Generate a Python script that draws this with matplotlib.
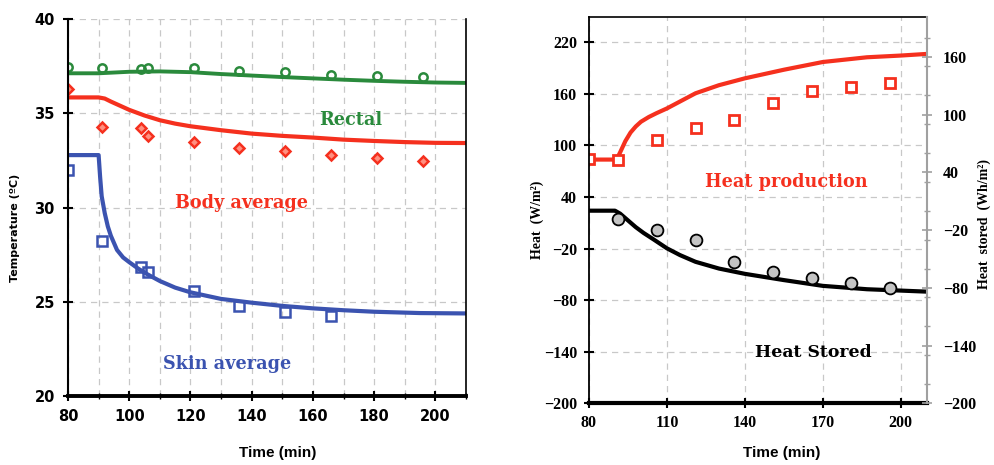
import matplotlib
matplotlib.use('Agg')
import matplotlib.pyplot as plt
from matplotlib.ticker import MultipleLocator

# ---- left panel: temperatures ----
t_rec_line = [80, 90, 100, 110, 120, 130, 140, 150, 160, 170, 180, 190, 200, 210]
rec_line = [37.12, 37.12, 37.2, 37.22, 37.18, 37.08, 37.0, 36.92, 36.85, 36.78, 36.72, 36.67, 36.63, 36.61]
t_body_line = [80, 90, 92, 94, 97, 100, 105, 110, 115, 120, 130, 140, 150, 160, 170, 180, 190, 200, 210]
body_line = [35.84, 35.84, 35.78, 35.62, 35.4, 35.18, 34.88, 34.63, 34.45, 34.31, 34.1, 33.92, 33.8, 33.71, 33.6, 33.53, 33.47, 33.43, 33.42]
t_skin_line = [80, 90, 90.5, 91, 92, 93, 94, 96, 98, 100, 103, 106, 110, 115, 120, 130, 140, 150, 160, 170, 180, 195, 210]
skin_line = [32.78, 32.78, 31.6, 30.6, 29.7, 29.0, 28.5, 27.75, 27.35, 27.1, 26.75, 26.45, 26.1, 25.75, 25.5, 25.15, 24.95, 24.78, 24.65, 24.55, 24.47, 24.4, 24.38]

t_meas = [80, 91, 104, 106, 121, 136, 151, 166, 181, 196]
rec_meas = [37.46, 37.38, 37.34, 37.4, 37.4, 37.23, 37.18, 37.02, 36.97, 36.91]
body_meas = [36.26, 34.27, 34.2, 33.78, 33.46, 33.18, 33.0, 32.77, 32.64, 32.46]
t_skin_meas = [80, 91, 104, 106, 121, 136, 151, 166]
skin_meas = [32.0, 28.2, 26.86, 26.56, 25.58, 24.79, 24.43, 24.22]

# ---- right panel: heat ----
t_prod_line = [80, 90.6, 92, 94, 96, 98, 100, 103, 106, 110, 115, 121, 130, 140, 155, 170, 187, 200, 210]
prod_line = [83.5, 83.5, 92, 105, 115, 122, 127.5, 133, 137.5, 143, 151, 160.6, 170, 178, 188, 197, 202.5, 204.5, 206.4]
t_prod_meas = [80, 91, 106, 121, 136, 151, 166, 181, 196]
prod_meas = [83.8, 83.2, 106.3, 120.7, 129.6, 149, 163.7, 167.6, 172.3]

t_stor_line = [80, 90, 92, 95, 98, 101, 105, 110, 115, 121, 130, 140, 155, 170, 187, 210]
stor_line = [0.1, 0.1, -3, -10, -17, -23, -30, -39, -46, -53, -60, -65.5, -72, -78, -81.5, -84]
t_stor_meas = [91, 106, 121, 136, 151, 166, 181, 196]
stor_meas = [-8.8, -20, -30.3, -53.5, -63.3, -69.5, -74.7, -80.5]

GREEN = '#2a8a3c'
RED = '#f5301e'
BLUE = '#3b53b0'
GRID = '#c8c8c8'

W, H = 995, 465
fig = plt.figure(figsize=(W / 100, H / 100), dpi=100)

# left axes
ax1 = fig.add_axes([68 / W, (H - 396) / H, (466 - 68) / W, (396 - 19) / H])
ax1.plot(t_rec_line, rec_line, color=GREEN, lw=2.8, solid_capstyle='butt')
ax1.plot(t_body_line, body_line, color=RED, lw=3, solid_capstyle='butt')
ax1.plot(t_skin_line, skin_line, color=BLUE, lw=3, solid_capstyle='butt')
ax1.plot(t_meas, rec_meas, 'o', ms=6, mfc='none', mec=GREEN, mew=1.8)
ax1.plot(t_meas, body_meas, 'D', ms=5, mfc='#ff9080', mec=RED, mew=1.8)
ax1.plot(t_skin_meas, skin_meas, 's', ms=6.5, mfc='none', mec=BLUE, mew=1.8)

ax1.set_xlim(80, 210)
ax1.set_ylim(20, 40)
ax1.xaxis.set_major_locator(MultipleLocator(20))
ax1.xaxis.set_minor_locator(MultipleLocator(10))
ax1.yaxis.set_major_locator(MultipleLocator(5))
ax1.grid(True, which='both', axis='x', color=GRID, ls=(0, (5, 4)), lw=0.9)
ax1.grid(True, which='major', axis='y', color=GRID, ls=(0, (5, 4)), lw=0.9)
ax1.spines['top'].set_visible(False)
ax1.spines['bottom'].set_linewidth(2.8)
ax1.spines['left'].set_linewidth(1.5)
ax1.spines['right'].set_linewidth(1.2)
ax1.tick_params(direction='inout', length=7, width=1.5, labelsize=10.5, pad=6)
ax1.tick_params(which='minor', direction='inout', length=4, width=1)
for lab in ax1.get_xticklabels() + ax1.get_yticklabels():
    lab.set_fontweight('bold')

ax1.text(172.2, 34.63, 'Rectal', color=GREEN, fontsize=12.7, fontweight='bold',
         family='DejaVu Serif', ha='center', va='center')
ax1.text(136.8, 30.25, 'Body average', color=RED, fontsize=12.7, fontweight='bold',
         family='DejaVu Serif', ha='center', va='center')
ax1.text(131.9, 21.68, 'Skin average', color=BLUE, fontsize=12.7, fontweight='bold',
         family='DejaVu Serif', ha='center', va='center')

# right axes
ax2 = fig.add_axes([589 / W, (H - 403.3) / H, (926.7 - 589) / W, (403.3 - 17.3) / H])
ax3 = ax2.twinx()
ax2.plot(t_prod_line, prod_line, color=RED, lw=3, solid_capstyle='butt')
ax2.plot(t_prod_meas, prod_meas, 's', ms=7, mfc='white', mec=RED, mew=2)
ax3.plot(t_stor_line, stor_line, color='black', lw=3, solid_capstyle='butt')
ax3.plot(t_stor_meas, stor_meas, 'o', ms=8.5, mfc='#c4c4c4', mec='black', mew=1.3)

ax2.set_xlim(80, 210)
ax2.set_ylim(-200, 249)
ax3.set_ylim(-200, 201)
ax2.set_xticks([80, 110, 140, 170, 200])
ax2.set_yticks([-200, -140, -80, -20, 40, 100, 160, 220])
ax3.set_yticks([-200, -140, -80, -20, 40, 100, 160])
ax3.yaxis.set_minor_locator(MultipleLocator(30))
ax2.grid(True, color=GRID, ls=(0, (5, 4)), lw=0.9)
ax2.spines['bottom'].set_linewidth(3)
ax2.spines['left'].set_linewidth(1.3)
ax2.spines['top'].set_linewidth(1.2)
ax2.spines['right'].set_visible(False)
ax3.spines['right'].set_color('#a0a0a0')
ax3.spines['right'].set_linewidth(1.5)
for s in ['top', 'bottom', 'left']:
    ax3.spines[s].set_visible(False)
ax2.tick_params(direction='inout', length=7, width=1.5, labelsize=11.5, pad=5)
ax3.tick_params(direction='inout', length=7, width=1.2, color='#a0a0a0', labelsize=11.5, pad=8)
ax3.tick_params(which='minor', direction='inout', length=4, width=1, color='#a0a0a0')
for lab in ax2.get_xticklabels() + ax2.get_yticklabels() + ax3.get_yticklabels():
    lab.set_fontweight('bold')
    lab.set_family('Liberation Serif')

ax2.text(156.1, 57.8, 'Heat production', color=RED, fontsize=12.7, fontweight='bold',
         family='DejaVu Serif', ha='center', va='center')
ax2.text(166.4, -141.1, 'Heat Stored', color='black', fontsize=12.4, fontweight='bold',
         family='DejaVu Serif', ha='center', va='center')

# axis titles placed in figure pixels (top-left origin)
def ftext(x, y, s, **kw):
    fig.text(x / W, 1 - y / H, s, ha='center', va='center', fontweight='bold', **kw)

ftext(278, 453, 'Time (min)', fontsize=11, family='Liberation Sans')
ftext(782, 453, 'Time (min)', fontsize=11, family='Liberation Sans')
ftext(15, 228, 'Temperature (ºC)', fontsize=8, rotation=90)
ftext(537, 220, 'Heat  (W/m²)', fontsize=10, family='Liberation Serif', rotation=90)
ftext(984, 224, 'Heat  stored  (Wh/m²)', fontsize=10, family='Liberation Serif', rotation=90)

fig.savefig('out.png', dpi=100)
